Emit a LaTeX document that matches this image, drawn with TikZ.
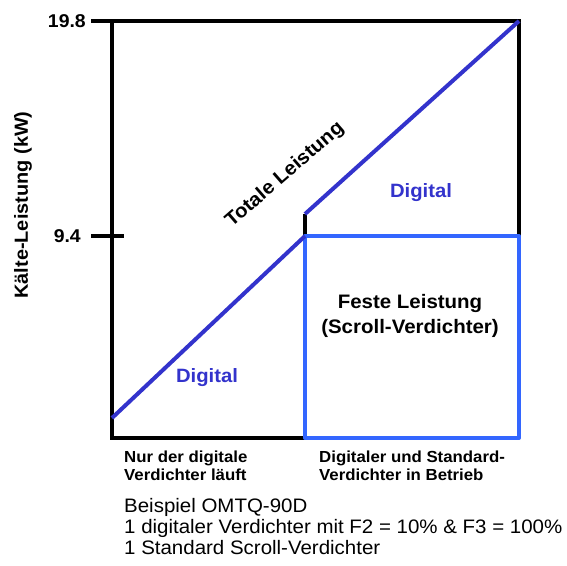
\documentclass[tikz,border=0pt]{standalone}
\usepackage{fontspec}
\setmainfont[FakeStretch=1.05]{Liberation Sans}
\definecolor{dblue}{HTML}{3333CC}
\definecolor{lblue}{HTML}{3366FF}
\begin{document}
\begin{tikzpicture}[x=1pt,y=-1pt,
  frame/.style={line width=4.5pt, black},
  diag/.style={line width=4pt, dblue},
  boxline/.style={line width=4pt, lblue, line join=round},
  lab/.style={font=\bfseries\fontsize{19}{22}\selectfont, inner sep=0pt},
  blab/.style={font=\bfseries\fontsize{16}{18}\selectfont, inner sep=0pt, align=left},
  dlab/.style={font=\bfseries\fontsize{19.3}{22}\selectfont, text=dblue, inner sep=0pt},
  note/.style={font=\fontsize{19.5}{21.5}\selectfont, inner sep=0pt, anchor=base west}]
\useasboundingbox (0,0) rectangle (567,565);
% coordinates
\coordinate (tl) at (112,21);
\coordinate (tr) at (519,21);
\coordinate (bl) at (112,438);
\coordinate (mb) at (305,438);
\coordinate (mt) at (305,236);
\coordinate (mu) at (305,214);
\coordinate (rm) at (519,236);
\coordinate (lo) at (112,418);
\coordinate (t1a) at (91,21);
\coordinate (t2a) at (91,236);
\coordinate (t2b) at (124,236);
% frame
\draw[frame] (t1a) -- (tr) -- (rm);
\draw[frame] (tl) -- (bl) -- (mb);
\draw[frame] (t2a) -- (t2b);
\draw[frame, line width=4pt] (mu) -- (mt);
% fixed box
\draw[boxline] (mt) rectangle (519,438);
% diagonals
\draw[diag] (lo) -- (mt);
\draw[diag] (mu) -- (tr);
% labels
\node[lab, anchor=east, font=\bfseries\fontsize{18.5}{22}\selectfont] (v1) at (86,21) {19.8};
\node[lab, anchor=east, font=\bfseries\fontsize{18.5}{22}\selectfont] (v2) at (81,236) {9.4};
\node[lab, rotate=90] (yl) at (23,205) {Kälte-Leistung (kW)};
\node[lab, rotate=41, font=\bfseries\fontsize{19.5}{22}\selectfont] (tot) at (285,175) {Totale Leistung};
\node[dlab] (d1) at (421,193) {Digital};
\node[dlab] (d2) at (207,378) {Digital};
\node[lab, align=center, font=\bfseries\fontsize{19.5}{25}\selectfont] (fl) at (410,316) {Feste Leistung\\(Scroll-Verdichter)};
\node[blab, anchor=north west] (b1) at (124,451) {Nur der digitale\\Verdichter läuft};
\node[blab, anchor=north west] (b2) at (319,451) {Digitaler und Standard-\\Verdichter in Betrieb};
\node[note] (n1) at (124,512) {Beispiel OMTQ-90D};
\node[note] (n2) at (124,533) {1 digitaler Verdichter mit F2 = 10\% \& F3 = 100\%};
\node[note] (n3) at (124,554) {1 Standard Scroll-Verdichter};
\end{tikzpicture}
\end{document}
